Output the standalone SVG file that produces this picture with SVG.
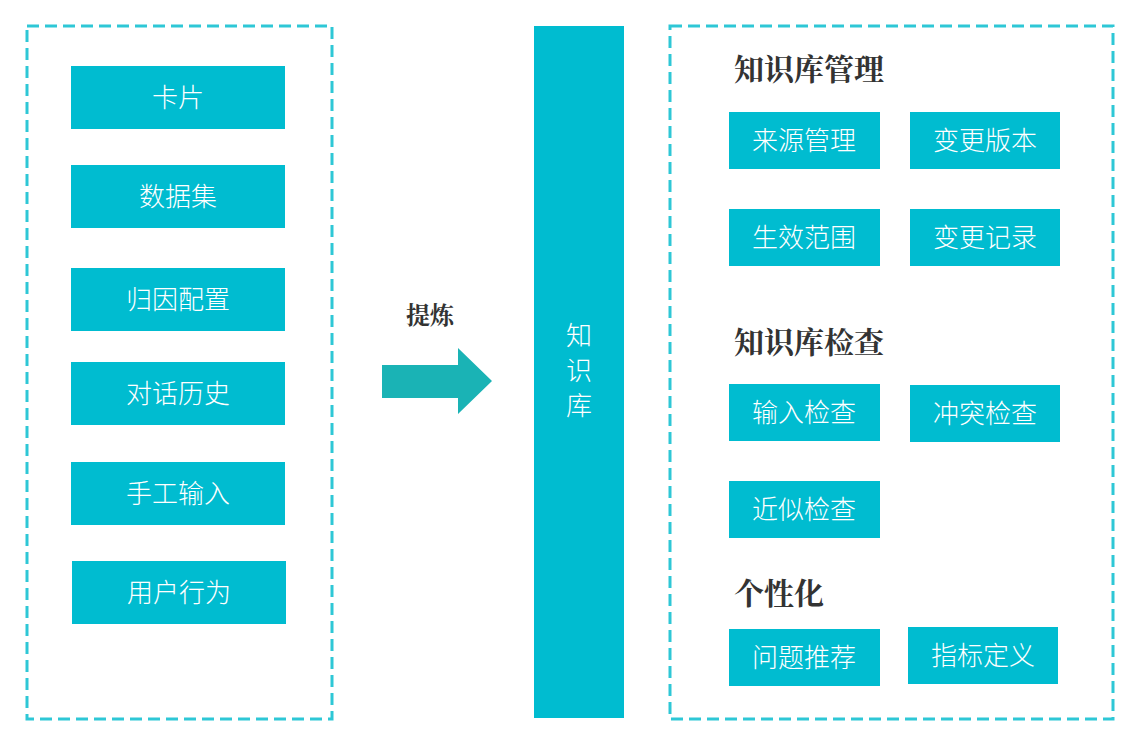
<svg xmlns="http://www.w3.org/2000/svg" width="1130" height="731" viewBox="0 0 1130 731">
<style>
.dash{fill:none;stroke:#2ec7d6;stroke-width:3;stroke-dasharray:12,6}
.b{fill:#00bcd0}
.t{fill:#fff;font-family:"Noto Sans CJK SC",sans-serif;font-size:26px;font-weight:300;text-anchor:middle}
.h{fill:#333;font-family:"Noto Serif CJK SC","Noto Sans CJK SC",serif;font-size:30px;font-weight:bold}
</style>
<rect width="1130" height="731" fill="#fff"/>
<rect class="dash" x="27" y="26" width="305" height="693"/>
<rect class="dash" x="670" y="26" width="443" height="693"/>
<g id="n1"><rect class="b" x="71" y="66" width="214" height="63"/><text class="t" x="178" y="107">卡片</text></g>
<g id="n2"><rect class="b" x="71" y="165" width="214" height="63"/><text class="t" x="178" y="206">数据集</text></g>
<g id="n3"><rect class="b" x="71" y="268" width="214" height="63"/><text class="t" x="178" y="309">归因配置</text></g>
<g id="n4"><rect class="b" x="71" y="362" width="214" height="63"/><text class="t" x="178" y="403">对话历史</text></g>
<g id="n5"><rect class="b" x="71" y="462" width="214" height="63"/><text class="t" x="178" y="503">手工输入</text></g>
<g id="n6"><rect class="b" x="72" y="561" width="214" height="63"/><text class="t" x="179" y="602">用户行为</text></g>
<g id="connectors">
<path d="M382 365H458V348L492 381L458 414V398H382Z" fill="#1ab3b5"/>
<text x="430" y="324" class="h" style="font-size:24px" text-anchor="middle">提炼</text>
</g>
<g id="kb"><rect class="b" x="534" y="26" width="90" height="692"/>
<text class="t" x="579" y="345">知</text><text class="t" x="579" y="380">识</text><text class="t" x="579" y="415">库</text></g>
<text class="h" x="734" y="80">知识库管理</text>
<text class="h" x="734" y="353">知识库检查</text>
<text class="h" x="734" y="604">个性化</text>
<g id="r1"><rect class="b" x="729" y="112" width="151" height="57"/><text class="t" x="804" y="150">来源管理</text></g>
<g id="r2"><rect class="b" x="910" y="112" width="150" height="57"/><text class="t" x="985" y="150">变更版本</text></g>
<g id="r3"><rect class="b" x="729" y="209" width="151" height="57"/><text class="t" x="804" y="247">生效范围</text></g>
<g id="r4"><rect class="b" x="910" y="209" width="150" height="57"/><text class="t" x="985" y="247">变更记录</text></g>
<g id="r5"><rect class="b" x="729" y="384" width="151" height="57"/><text class="t" x="804" y="422">输入检查</text></g>
<g id="r6"><rect class="b" x="910" y="385" width="150" height="57"/><text class="t" x="985" y="423">冲突检查</text></g>
<g id="r7"><rect class="b" x="729" y="481" width="151" height="57"/><text class="t" x="804" y="519">近似检查</text></g>
<g id="r8"><rect class="b" x="729" y="629" width="151" height="57"/><text class="t" x="804" y="667">问题推荐</text></g>
<g id="r9"><rect class="b" x="908" y="627" width="150" height="57"/><text class="t" x="983" y="665">指标定义</text></g>
</svg>
